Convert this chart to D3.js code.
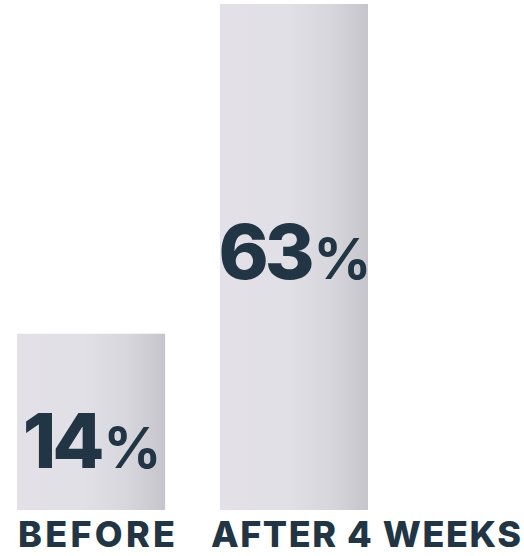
<!DOCTYPE html>
<html>
<head>
<meta charset="utf-8">
<script src="https://cdn.jsdelivr.net/npm/d3@7"></script>
<style>
  html, body { margin: 0; padding: 0; background: #ffffff; }
  svg { display: block; }
  text { font-family: Inter, "Open Sans", sans-serif; font-weight: 800; fill: #223544; }
</style>
</head>
<body>
<svg id="chart" width="524" height="556"></svg>
<script>
// Share of respondents, before and after four weeks
const categories = ["BEFORE", "AFTER 4 WEEKS"];
const values = [14, 63];
const valueSuffix = "%";

const W = 524, H = 556;
const svg = d3.select("#chart");

const x = d3.scaleBand()
  .domain(categories)
  .range([17, 368])
  .paddingInner(0.27)
  .paddingOuter(0);

const y = d3.scaleLinear()
  .domain([-12.2, 63])
  .range([510, 4]);

// soft metallic fill, flat on the left and darkening toward the right edge
const defs = svg.append("defs");
const grad = defs.append("linearGradient")
  .attr("id", "barFill")
  .attr("x1", "0%").attr("x2", "100%").attr("y1", "0%").attr("y2", "0%");
[
  [0, "#e3e0e7"],
  [0.45, "#e1e0e6"],
  [0.75, "#d8d6dd"],
  [1, "#c7c5cc"]
].forEach(([o, c]) => grad.append("stop").attr("offset", o).attr("stop-color", c));

const data = categories.map((c, i) => ({ cat: c, value: values[i] }));
const base = y.range()[0];

const g = svg.append("g");

g.selectAll("rect.bar")
  .data(data)
  .join("rect")
  .attr("class", "bar")
  .attr("x", d => x(d.cat))
  .attr("y", d => y(d.value))
  .attr("width", x.bandwidth())
  .attr("height", d => base - y(d.value))
  .attr("fill", "url(#barFill)");

// value labels inside the bars
const labels = g.selectAll("text.value")
  .data(data)
  .join("text")
  .attr("class", "value")
  .attr("x", d => x(d.cat) + x.bandwidth() / 2 + 1)
  .attr("y", d => {
    const top = y(d.value), h = base - top;
    return top + Math.max(h * 0.543, 134);
  })
  .attr("text-anchor", "middle");

labels.append("tspan")
  .style("font-size", "76px")
  .style("letter-spacing", "-4px")
  .text(d => d.value);
labels.append("tspan")
  .attr("dx", 3)
  .style("font-size", "57px")
  .style("font-weight", 700)
  .text(valueSuffix);

// category labels along the bottom, kept inside the right edge
const catLen = d => d.cat.length > 8 ? 310 : 157;
g.selectAll("text.cat")
  .data(data)
  .join("text")
  .attr("class", "cat")
  .attr("x", d => Math.min(x(d.cat) + 1, W - 3 - catLen(d)))
  .attr("y", 547)
  .attr("text-anchor", "start")
  .attr("textLength", catLen)
  .attr("lengthAdjust", "spacing")
  .style("font-size", "36px")
  .text(d => d.cat);
</script>
</body>
</html>
